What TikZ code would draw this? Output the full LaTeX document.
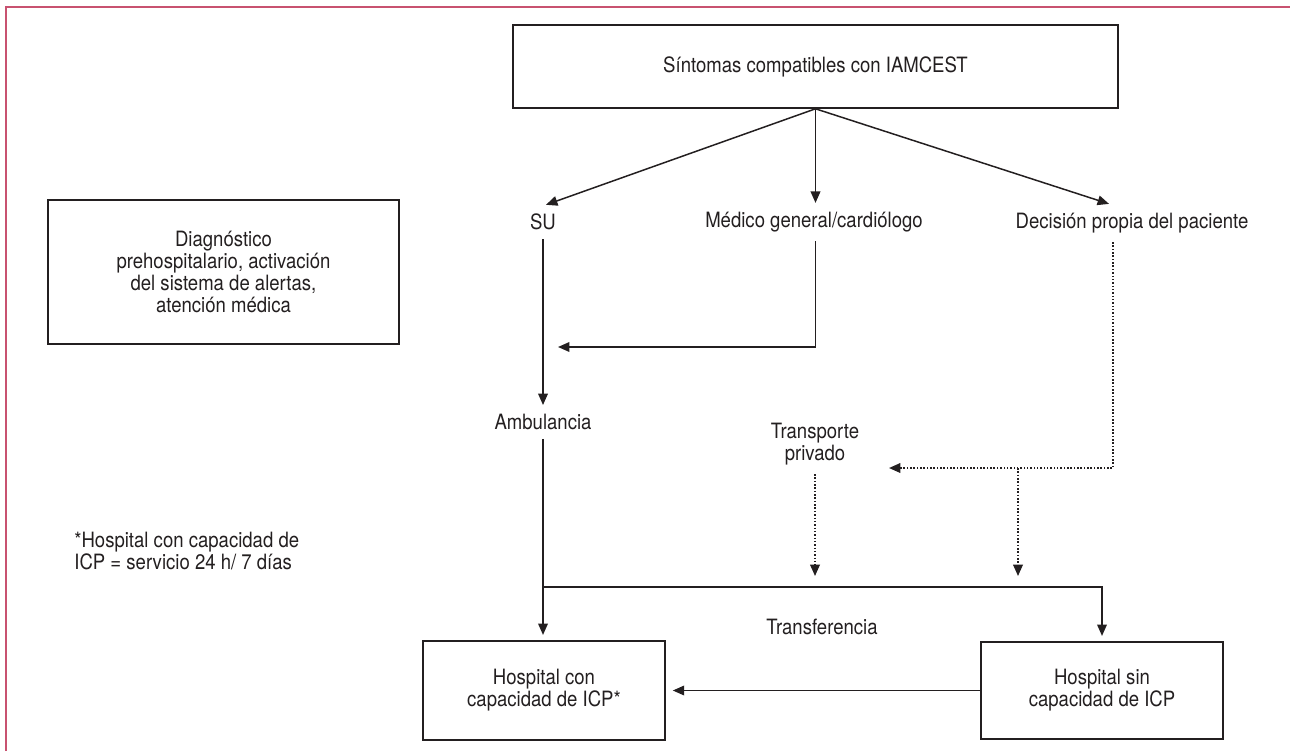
\documentclass[tikz,border=0pt]{standalone}
\usepackage{fontspec}
\setmainfont{TeX Gyre Heros}[FakeStretch=0.88]
\usetikzlibrary{arrows.meta}

\definecolor{marco}{RGB}{200,82,112}
\definecolor{tinta}{RGB}{35,31,32}

\begin{document}
\begin{tikzpicture}[x=0.02cm,y=-0.02cm,
		font=\fontsize{12}{12.5}\selectfont,
		caja/.style={draw=tinta,line width=0.9pt,align=center,inner sep=0pt,text=tinta},
		rotulo/.style={align=center,inner sep=5pt,text=tinta},
		flecha/.style={draw=tinta,line width=0.85pt,-{Triangle[width=5.5pt,length=6.5pt]}},
		punteada/.style={flecha,line width=0.95pt,dash pattern=on 0.9pt off 1pt}]
		
		\useasboundingbox (0,0) rectangle (1290,751);
		\draw[marco,line width=1.2pt] (6,751)--(6,7)--(1290,7);
		
		\node[caja,minimum width=12.1cm,minimum height=1.66cm] (sintomas) at (815.5,66.5) {Síntomas compatibles con IAMCEST};
		\node[caja,minimum width=7.02cm,minimum height=2.88cm] (diagnostico) at (223.5,272) {Diagnóstico\\prehospitalario, activación\\del sistema de alertas,\\atención médica};
		
		\node[rotulo] (su) at (543,222) {SU};
		\node[rotulo] (medico) at (814,222) {Médico general/cardiólogo};
		\node[rotulo] (decision) at (1132,223) {Decisión propia del paciente};
		\node[rotulo] (ambulancia) at (543,422) {Ambulancia};
		\node[rotulo] (privado) at (815,444) {Transporte\\privado};
		\node[rotulo] (transferencia) at (822,627) {Transferencia};
		\node[rotulo,align=left,anchor=west,inner sep=0pt] (nota) at (74,551) {*Hospital con capacidad de\\ICP = servicio 24 h/ 7 días};
		
		\node[caja,minimum width=4.84cm,minimum height=1.98cm] (hcon) at (544,690.5) {Hospital con\\capacidad de ICP*};
		\node[caja,minimum width=4.84cm,minimum height=1.94cm] (hsin) at (1102,690.5) {Hospital sin\\capacidad de ICP};
		
		\coordinate (giro) at (558,347);
		\coordinate (cruce) at (1018,468);
		\coordinate (llegada) at (889,468);
		\coordinate (bajada) at (1018,576);
		
		% desde los sintomas
		\draw[flecha] (sintomas.south) -- ([xshift=0.06cm]su.north);
		\draw[flecha] (sintomas.south) -- (sintomas.south |- medico.north);
		\draw[flecha] (sintomas.south) -- ([xshift=-0.46cm]decision.north);
		
		\draw[flecha] (su.south) -- (ambulancia.north);
		\draw[flecha] (sintomas.south |- medico.south) |- (giro);
		
		\draw[flecha,shorten >=3pt] (ambulancia.south) -- (ambulancia.south |- hcon.north);
		\draw[flecha,shorten >=3pt] (ambulancia.south |- 0,587) -| (hsin.north);
		
		% transporte privado
		\draw[punteada] ([xshift=-0.38cm]decision.south) |- (llegada);
		\draw[punteada] (cruce) -- (bajada);
		\draw[punteada] (privado.south) -- (privado.south |- bajada);
		
		\draw[flecha,shorten >=4pt] (hsin.west) -- (hsin.west -| hcon.east);
		
\end{tikzpicture}
\end{document}
